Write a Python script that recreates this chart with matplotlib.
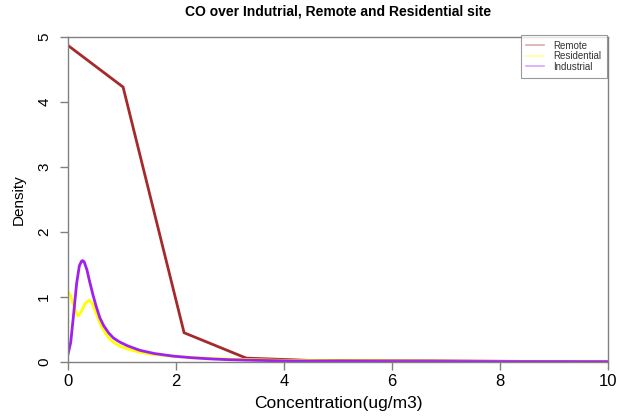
import matplotlib
matplotlib.use("Agg")
import matplotlib.pyplot as plt

plt.rcParams['font.family'] = ['Liberation Sans', 'DejaVu Sans']

# Density estimates of CO concentration (ug/m3) per site type
remote_x = [0.0, 1.02, 2.15, 3.30, 4.45, 5.60, 6.75, 7.90, 9.05, 10.2]
remote_y = [4.87, 4.23, 0.45, 0.06, 0.025, 0.02, 0.018, 0.012, 0.006, 0.003]

residential_x = [0.0, 0.05, 0.10, 0.15, 0.19, 0.25, 0.32, 0.39, 0.45, 0.52, 0.60, 0.70,
                 0.80, 0.90, 1.00, 1.15, 1.33, 1.55, 1.80, 2.0, 2.5, 3.0, 3.5, 4.0,
                 5.0, 6.0, 7.0, 8.0, 9.0, 10.0]
residential_y = [1.08, 1.02, 0.88, 0.76, 0.71, 0.78, 0.90, 0.95, 0.90, 0.75, 0.58, 0.43,
                 0.33, 0.27, 0.23, 0.19, 0.15, 0.12, 0.10, 0.085, 0.06, 0.045, 0.035, 0.025,
                 0.015, 0.012, 0.01, 0.008, 0.006, 0.005]

industrial_x = [0.0, 0.05, 0.10, 0.16, 0.21, 0.25, 0.27, 0.30, 0.35, 0.40, 0.46, 0.52,
                0.59, 0.66, 0.75, 0.84, 0.95, 1.10, 1.33, 1.60, 1.95, 2.3, 2.7, 3.0,
                3.5, 4.0, 4.5, 5.0, 6.0, 7.0, 8.0, 9.0, 10.0]
industrial_y = [0.12, 0.30, 0.70, 1.21, 1.48, 1.55, 1.56, 1.54, 1.42, 1.24, 1.04, 0.86,
                0.68, 0.56, 0.45, 0.37, 0.31, 0.25, 0.18, 0.13, 0.09, 0.065, 0.045, 0.035,
                0.025, 0.018, 0.012, 0.01, 0.008, 0.008, 0.007, 0.006, 0.005]

x_ticks = [0, 2, 4, 6, 8, 10]
y_ticks = [0, 1, 2, 3, 4, 5]

fig = plt.figure(figsize=(6.18, 4.17), dpi=100)
ax = fig.add_axes([68 / 618, 55 / 417, 540 / 618, 325 / 417])

ax.plot(remote_x, remote_y, color='#A52A2A', lw=2.0, label='Remote', solid_joinstyle='miter')
ax.plot(residential_x, residential_y, color='#FFFF00', lw=2.0, label='Residential')
ax.plot(industrial_x, industrial_y, color='#A020F0', lw=2.0, label='Industrial')

ax.set_xlim(0, 10)
ax.set_ylim(0, 5)
ax.set_xticks(x_ticks)
ax.set_yticks(y_ticks)
ax.set_yticklabels([str(v) for v in y_ticks], rotation=90, va='center')

for sp in ax.spines.values():
    sp.set_color('#808080')
    sp.set_linewidth(1.0)
ax.tick_params(direction='out', length=6, width=1, colors='#808080',
               labelcolor='black')
ax.tick_params(axis='x', pad=3, labelsize=12)
ax.tick_params(axis='y', pad=6, labelsize=11)

ax.set_xlabel('Concentration(ug/m3)', fontsize=12.5, labelpad=5)
ax.set_ylabel('Density', fontsize=11, labelpad=8)
fig.text(338 / 618, 1 - 12 / 417, 'CO over Indutrial, Remote and Residential site',
         ha='center', va='center', fontsize=10, fontweight='bold')

leg = ax.legend(loc='upper right', bbox_to_anchor=(607 / 618, 1 - 35 / 417),
                bbox_transform=fig.transFigure, fontsize=7, frameon=True,
                fancybox=False, borderaxespad=0, handlelength=1.85,
                borderpad=0.6, labelspacing=0.05, handletextpad=0.9)
leg.get_frame().set_edgecolor('#808080')
leg.get_frame().set_linewidth(0.8)
for line in leg.get_lines():
    line.set_alpha(0.4)
    line.set_linewidth(1.2)
for t in leg.get_texts():
    t.set_color('#333333')

fig.savefig('out.png', dpi=100)
